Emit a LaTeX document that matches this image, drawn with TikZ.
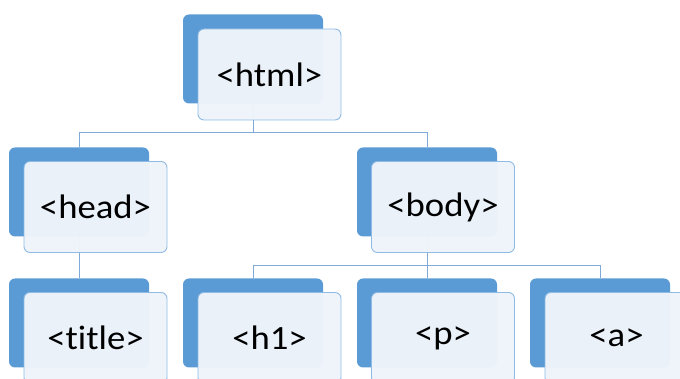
\documentclass[tikz,border=0pt]{standalone}
\usepackage{fontspec}
\setmainfont[Ligatures={NoCommon}]{Carlito}
\definecolor{bblue}{HTML}{5B9BD5}
\definecolor{ffill}{HTML}{EFF4FB}
\definecolor{fline}{HTML}{8FBAE3}
\definecolor{cline}{HTML}{7EA9D8}
\begin{document}
\begin{tikzpicture}[x=1pt,y=1pt,
  back/.style={fill=bblue,draw=none,rounded corners=6pt,minimum width=140pt,minimum height=89pt,inner sep=0pt},
  front/.style={fill=ffill,fill opacity=0.97,text opacity=1,draw=fline,line width=0.9pt,rounded corners=6pt,minimum width=143pt,minimum height=91pt,inner sep=0pt,font=\fontsize{34}{36}\selectfont},
  conn/.style={draw=cline,line width=0.9pt}]
\useasboundingbox (0,0) rectangle (680,379);
% back boxes (centres: x+70, 379-(y+45))
\node[back] (htmlb)  at (253,320) {};
\node[back] (headb)  at (79,187) {};
\node[back] (bodyb)  at (427,187) {};
\node[back] (titleb) at (79,56) {};
\node[back] (h1b)    at (253,56) {};
\node[back] (pb)     at (427,56) {};
\node[back] (ab)     at (600,56) {};
% connectors
\path (headb.north) ++(0,15) coordinate (r1);
\draw[conn] (headb.north) -- (r1) -| (bodyb.north);
\draw[conn] (htmlb.south) -- (htmlb.south |- r1);
\draw[conn] (headb.south) -- (titleb.north);
\path (h1b.north) ++(0,13) coordinate (r2);
\draw[conn] (h1b.north) -- (r2) -| (ab.north);
\draw[conn] (bodyb.south) -- (bodyb.south |- r2);
\draw[conn] (pb.north) -- (pb.north |- r2);
% front boxes
\node[front] (htmlf)  at (269.5,304.5) {\scalebox{1.08}[1]{<html>}};
\node[front] (headf)  at (95.5,172) {\scalebox{1.08}[1]{<head>}};
\node[front] (bodyf)  at (443,172) {\scalebox{1.08}[1]{<body>}};
\node[front] (titlef) at (95.5,41) {\scalebox{1.08}[1]{<title>}};
\node[front] (h1f)    at (269.5,41) {\scalebox{1.08}[1]{<h1>}};
\node[front] (pf)     at (443,41) {\scalebox{1.08}[1]{<p>}};
\node[front] (af)     at (616.5,41) {\scalebox{1.08}[1]{<a>}};
\end{tikzpicture}
\end{document}
